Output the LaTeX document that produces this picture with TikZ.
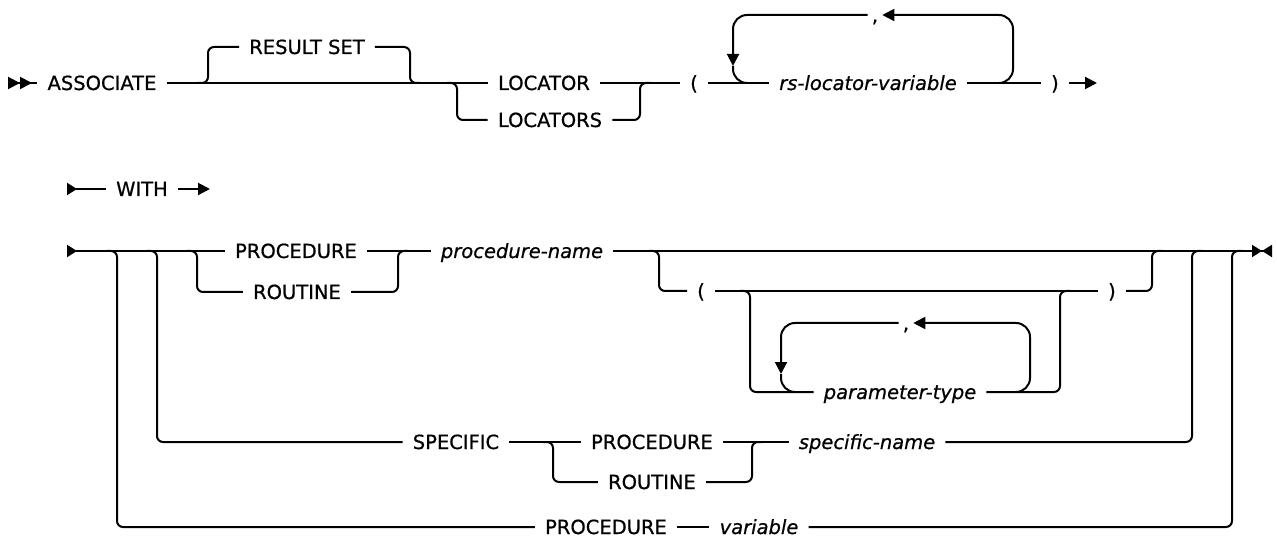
\documentclass[tikz,border=0pt]{standalone}
\usepackage{fontspec}
\setmainfont{DejaVu Sans}[FakeBold=0.7]
\usepackage{tikz}
\usetikzlibrary{arrows.meta}

\begin{document}
\begin{tikzpicture}[
        x=1pt, y=-1pt,
        kw/.style={inner xsep=10pt, inner ysep=0pt, text height=14pt, text depth=0pt, font=\fontsize{19.5pt}{23pt}\selectfont},
        var/.style={kw, font=\fontsize{19.5pt}{23pt}\selectfont\itshape},
        punct/.style={kw, inner xsep=4pt},
        rail/.style={draw=black, line width=2pt, rounded corners=6pt},
        repeatline/.style={draw=black, line width=2pt, rounded corners=14pt},
        fwd/.style={-{Triangle[width=12pt, length=12pt]}},
        begin2/.style={{Triangle[reversed, width=12pt, length=12pt]Triangle[reversed, width=12pt, length=12pt]}-},
        begin1/.style={{Triangle[reversed, width=12pt, length=10pt]}-},
        finish/.style={-{Triangle[width=12pt, length=10pt]Triangle[reversed, width=12pt, length=10pt]}}
    ]%
        \useasboundingbox (0,0) rectangle (1277,537);
        % ================= ROW 1: ASSOCIATE ... LOCATOR(S) ( rs-locator-variable ) =================
        \coordinate (r1s) at (8,83);
        \node[kw] (assoc) at (102,83) {ASSOCIATE};
        \node[kw] (rset) at (307,47) {RESULT SET};
        \node[kw] (loc) at (544,83) {LOCATOR};
        \node[kw] (locs) at (550,120) {LOCATORS};
        \node[kw] (lpar1) at (694,83) {(};
        \node[var] (rsvar) at (868,83) {rs-locator-variable};
        \node[punct] (comma1) at (875,15) {,};
        \node[kw] (rpar1) at (1055,83) {)};
        \coordinate (r1e) at (1097,83);
        % branch and merge points
        \coordinate (b1) at (208,83);
        \coordinate (m1) at (410,83);
        \coordinate (b2) at (457,83);
        \coordinate (m2) at (640,83);
        \coordinate (l1a) at (733,83);
        \coordinate (l1t) at (733,66);
        \coordinate (l1b) at (1013,83);
        % main line
        \draw[rail, begin2] (r1s) -- (assoc);
        \draw[rail] (assoc) -- (loc);
        \draw[rail] (loc) -- (lpar1);
        \draw[rail] (lpar1) -- (rsvar);
        \draw[rail] (rsvar) -- (rpar1);
        \draw[rail, fwd] (rpar1) -- (r1e);
        % optional RESULT SET
        \draw[rail] ([xshift=-10pt]b1) -- (b1) |- (rset);
        \draw[rail] (rset) -| (m1) -- ++(10,0);
        % LOCATORS alternative
        \draw[rail] ([xshift=-10pt]b2) -- (b2) |- (locs);
        \draw[rail] (locs) -| (m2) -- ++(10,0);
        % repeat loop with comma
        \draw[repeatline, fwd] ([xshift=-14pt]l1b) -- (l1b) |- (comma1);
        \draw[repeatline, fwd] (comma1) -| (l1t);
        \draw[repeatline] (l1t) -- (l1a) -- ++(14,0);
        % ================= ROW 2: WITH =================
        \coordinate (r2s) at (67,189);
        \node[kw] (with) at (142,189) {WITH};
        \coordinate (r2e) at (210,189);
        \draw[rail, begin1] (r2s) -- (with);
        \draw[rail, fwd] (with) -- (r2e);
        % ================= ROW 3: PROCEDURE / SPECIFIC / variable =================
        \coordinate (r3s) at (67,251);
        \node[kw] (proc) at (296,251) {PROCEDURE};
        \node[kw] (rout) at (297,292) {ROUTINE};
        \node[var] (pname) at (522,251) {procedure-name};
        \node[kw] (lpar2) at (701,291) {(};
        \node[punct] (comma2) at (906,323) {,};
        \node[var] (ptype) at (900,392) {parameter-type};
        \node[kw] (rpar2) at (1112,291) {)};
        \node[kw] (spec) at (456,442) {SPECIFIC};
        \node[kw] (sproc) at (652,442) {PROCEDURE};
        \node[kw] (srout) at (652,482) {ROUTINE};
        \node[var] (sname) at (867,442) {specific-name};
        \node[kw] (vproc) at (606,527) {PROCEDURE};
        \node[var] (vvar) at (759,527) {variable};
        \coordinate (r3e) at (1272,251);
        % branch and merge points
        \coordinate (b3) at (117,251);
        \coordinate (m3) at (1232,251);
        \coordinate (b4) at (157,251);
        \coordinate (m4) at (1192,251);
        \coordinate (b5) at (197,251);
        \coordinate (m5) at (398,251);
        \coordinate (b6) at (659,251);
        \coordinate (m6) at (1152,251);
        \coordinate (b7) at (750,291);
        \coordinate (m7) at (1060,291);
        \coordinate (b8) at (553,442);
        \coordinate (m8) at (752,442);
        \coordinate (l2a) at (781,392);
        \coordinate (l2t) at (781,374);
        \coordinate (l2b) at (1030,392);
        % main line
        \draw[rail, begin1] (r3s) -- (proc);
        \draw[rail] (proc) -- (pname);
        \draw[rail, finish] (pname) -- (r3e);
        % ROUTINE alternative
        \draw[rail] ([xshift=-10pt]b5) -- (b5) |- (rout);
        \draw[rail] (rout) -| (m5) -- ++(10,0);
        % optional parameter list
        \draw[rail] ([xshift=-10pt]b6) -- (b6) |- (lpar2);
        \draw[rail] (lpar2) -- (rpar2);
        \draw[rail] (rpar2) -| (m6) -- ++(10,0);
        \draw[rail] ([xshift=-10pt]b7) -- (b7) |- (ptype);
        \draw[rail] (ptype) -| (m7) -- ++(10,0);
        \draw[repeatline, fwd] ([xshift=-14pt]l2b) -- (l2b) |- (comma2);
        \draw[repeatline, fwd] (comma2) -| (l2t);
        \draw[repeatline] (l2t) -- (l2a) -- ++(14,0);
        % SPECIFIC path
        \draw[rail] ([xshift=-10pt]b4) -- (b4) |- (spec);
        \draw[rail] (spec) -- (sproc);
        \draw[rail] (sproc) -- (sname);
        \draw[rail] ([xshift=-10pt]b8) -- (b8) |- (srout);
        \draw[rail] (srout) -| (m8) -- ++(10,0);
        \draw[rail] (sname) -| (m4) -- ++(10,0);
        % PROCEDURE variable path
        \draw[rail] ([xshift=-10pt]b3) -- (b3) |- (vproc);
        \draw[rail] (vproc) -- (vvar);
        \draw[rail] (vvar) -| (m3) -- ++(10,0);
    \end{tikzpicture}
\end{document}
